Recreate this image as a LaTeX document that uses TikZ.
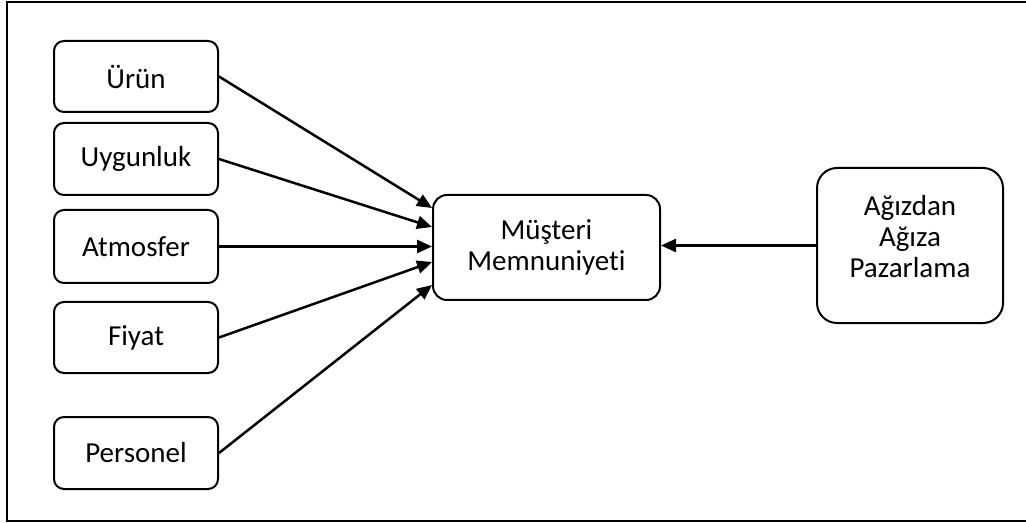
\documentclass[tikz,border=0pt]{standalone}
\usepackage{fontspec}
\setmainfont[Ligatures={NoCommon,NoDiscretionary,NoRare}]{Carlito}
\usetikzlibrary{arrows.meta}
\begin{document}
\begin{tikzpicture}[x=0.5pt,y=-0.5pt,
  every node/.style={font=\fontsize{14.5}{15.5}\selectfont},
  smallbox/.style={draw,line width=1pt,rounded corners=5pt,minimum width=82pt,inner sep=0pt,align=center},
  conn/.style={line width=1.25pt,-{Triangle[length=7.5pt,width=6.5pt]}}]
\useasboundingbox (0,0) rectangle (1026,523);
\draw[line width=0.9pt] (1030,2) -- (7,2) -- (7,521) -- (1030,521);
\node[smallbox,minimum height=35.5pt] (urun) at (136,76.5) {Ürün};
\node[smallbox,minimum height=36pt] (uyg) at (136,159) {Uygunluk};
\node[smallbox,minimum height=36.5pt] (atm) at (136,246.5) {Atmosfer};
\node[smallbox,minimum height=35.5pt] (fiy) at (136,337.5) {Fiyat};
\node[smallbox,minimum height=36pt] (per) at (136,453) {Personel};
\node[draw,line width=1pt,rounded corners=7pt,minimum width=113.5pt,minimum height=52.5pt,inner sep=0pt,align=center] (mus) at (546.5,247.5) {Müşteri\\Memnuniyeti};
\node[draw,line width=1pt,rounded corners=10pt,minimum width=93pt,minimum height=77.5pt,inner sep=0pt] (agz) at (910,245.5) {};
\node[align=center,inner sep=0pt] (agzt) at (910,237) {Ağızdan\\Ağıza\\Pazarlama};
\draw[conn] (urun.east) -- ([yshift=19.75pt]mus.west);
\draw[conn] (uyg.east) -- ([yshift=10.25pt]mus.west);
\draw[conn] (atm.east) -- (mus.west |- atm.east);
\draw[conn] (fiy.east) -- ([yshift=-7.25pt]mus.west);
\draw[conn] (per.east) -- ([yshift=-18.75pt]mus.west);
\draw[conn] (agz.west) -- (mus.east |- agz.west);
\end{tikzpicture}
\end{document}
